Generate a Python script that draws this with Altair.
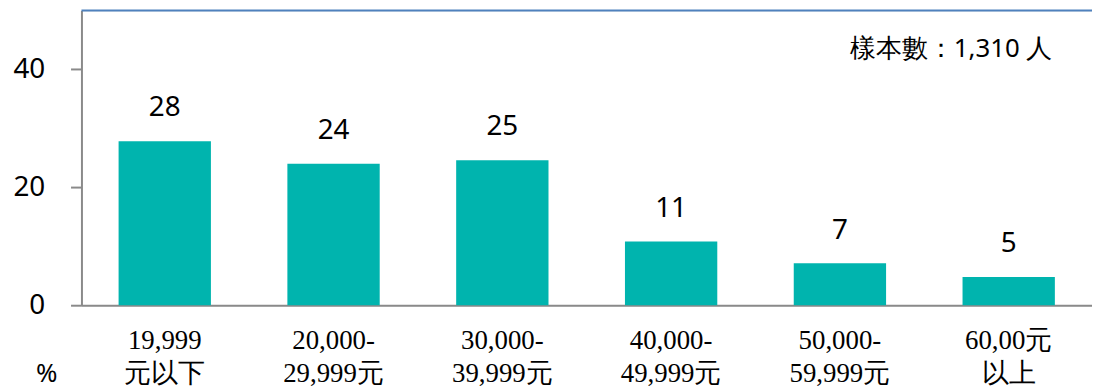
import altair as alt
import pandas as pd

categories = ["19,999\n元以下", "20,000-\n29,999元", "30,000-\n39,999元",
              "40,000-\n49,999元", "50,000-\n59,999元", "60,00元\n以上"]
values = [27.8, 24.0, 24.6, 10.8, 7.1, 4.8]
labels = ["28", "24", "25", "11", "7", "5"]
y_ticks = [0, 20, 40]
note = "樣本數：1,310 人"
unit = "%"

df = pd.DataFrame({"cat": categories, "val": values, "lab": labels})

W, H = 1018, 297
sans = "Noto Sans"
serif = "Liberation Serif"

x = alt.X("cat:N", sort=categories, title=None,
          scale=alt.Scale(paddingInner=0.453, paddingOuter=0.22),
          axis=alt.Axis(labelAngle=0, labelFont=serif, labelFontSize=27,
                        labelColor="#000000", labelLineHeight=33,
                        labelPadding=23, labelBaseline="top",
                        labelExpr="split(datum.label, '\\n')",
                        ticks=False, domainColor="#8a8a8a", domainWidth=2))
y = alt.Y("val:Q", title=None,
          scale=alt.Scale(domain=[0, 50], nice=False),
          axis=alt.Axis(values=y_ticks, grid=False, labelFont=sans,
                        labelFontSize=28, labelColor="#000000", labelPadding=26,
                        tickSize=11, tickColor="#8a8a8a", tickWidth=2,
                        domainColor="#8a8a8a", domainWidth=2))

bars = alt.Chart(df).mark_bar(color="#00b4ae").encode(x=x, y=y)
text = alt.Chart(df).mark_text(font=sans, fontSize=28, color="#000000",
                               baseline="alphabetic", dy=-25).encode(
    x=alt.X("cat:N", sort=categories), y="val:Q", text="lab:N")

top = alt.Chart(pd.DataFrame({"a": [0]})).mark_rule(
    color="#4f81bd", strokeWidth=2).encode(
    x=alt.value(0), x2=alt.value(W + 20), y=alt.value(0))

note_t = alt.Chart(pd.DataFrame({"t": [note]})).mark_text(
    font=sans, fontSize=26, color="#000000", align="center",
    baseline="middle").encode(x=alt.value(876), y=alt.value(39), text="t:N")
unit_t = alt.Chart(pd.DataFrame({"t": [unit]})).mark_text(
    font=sans, fontSize=26, color="#000000", align="center",
    baseline="middle").encode(x=alt.value(-35), y=alt.value(366), text="t:N")

chart = alt.layer(bars, text, top, note_t, unit_t).properties(
    width=W, height=H,
    autosize=alt.AutoSizeParams(type="none"),
    padding={"left": 74, "top": 1, "right": 0, "bottom": 83},
).configure_view(stroke=None).configure(background="white")

chart.save("out.html", embed_options={"renderer": "svg", "actions": False})
